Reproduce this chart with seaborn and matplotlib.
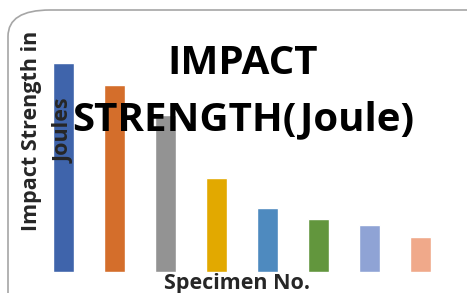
import matplotlib
matplotlib.use("Agg")
import matplotlib.pyplot as plt
from matplotlib.patches import FancyBboxPatch
import seaborn as sns
import pandas as pd

# Data (no scale shown, relative heights)
specimens = ["1", "2", "3", "4", "5", "6", "7", "8"]
impact = [20.9, 18.7, 15.7, 9.4, 6.4, 5.3, 4.7, 3.5]
colors = ["#3F64AB", "#D46E2B", "#939393", "#E2A900",
          "#4E8ABF", "#62963D", "#8FA3D5", "#F0A98A"]

df = pd.DataFrame({"Specimen": specimens, "Impact": impact})

sns.set_style("white")
plt.rcParams["font.family"] = ["Open Sans", "DejaVu Sans"]

fig = plt.figure(figsize=(4.67, 2.93), dpi=100)

# rounded chart border, drawn behind everything
border = FancyBboxPatch((8 / 467, -0.2), 1.2, (1 - 10 / 293) + 0.2,
                        boxstyle="round,pad=0,rounding_size=0.09",
                        transform=fig.transFigure, facecolor="white",
                        edgecolor="#A6A6A6", linewidth=1.2, zorder=-10)
fig.patches.append(border)

ax = fig.add_axes([38 / 467, (293 - 271.7) / 293, 408 / 467, 221.7 / 293])
ax.set_zorder(1)
sns.barplot(data=df, x="Specimen", y="Impact", hue="Specimen",
            palette=colors, saturation=1, width=0.41, legend=False, ax=ax)
ax.set_xlim(-0.5, 7.5)
ax.set_ylim(0, 22.17)
ax.patch.set_alpha(0)
ax.set_xticks([])
ax.set_yticks([])
ax.set_xlabel("")
ax.set_ylabel("")
sns.despine(ax=ax, left=True, bottom=True)

# title drawn over the bars
ax.text(243 / 467, 1 - 64 / 293, "IMPACT", ha="center", va="center",
        fontsize=29, fontweight="bold", color="black",
        transform=fig.transFigure, zorder=5)
ax.text(243 / 467, 1 - 120 / 293, "STRENGTH(Joule)", ha="center", va="center",
        fontsize=29, fontweight="bold", color="black",
        transform=fig.transFigure, zorder=5)

# y label in two lines
ax.text(32 / 467, 1 - 131 / 293, "Impact Strength in", rotation=90,
        ha="center", va="center", fontsize=15.5, fontweight="bold",
        transform=fig.transFigure, zorder=5)
ax.text(64 / 467, 1 - 131 / 293, "Joules", rotation=90,
        ha="center", va="center", fontsize=15.5, fontweight="bold",
        transform=fig.transFigure, zorder=5)

# x label
ax.text(237 / 467, 1 - 283 / 293, "Specimen No.", ha="center", va="center",
        fontsize=15.5, fontweight="bold", transform=fig.transFigure,
        zorder=5)

fig.savefig("out.png", dpi=100)
